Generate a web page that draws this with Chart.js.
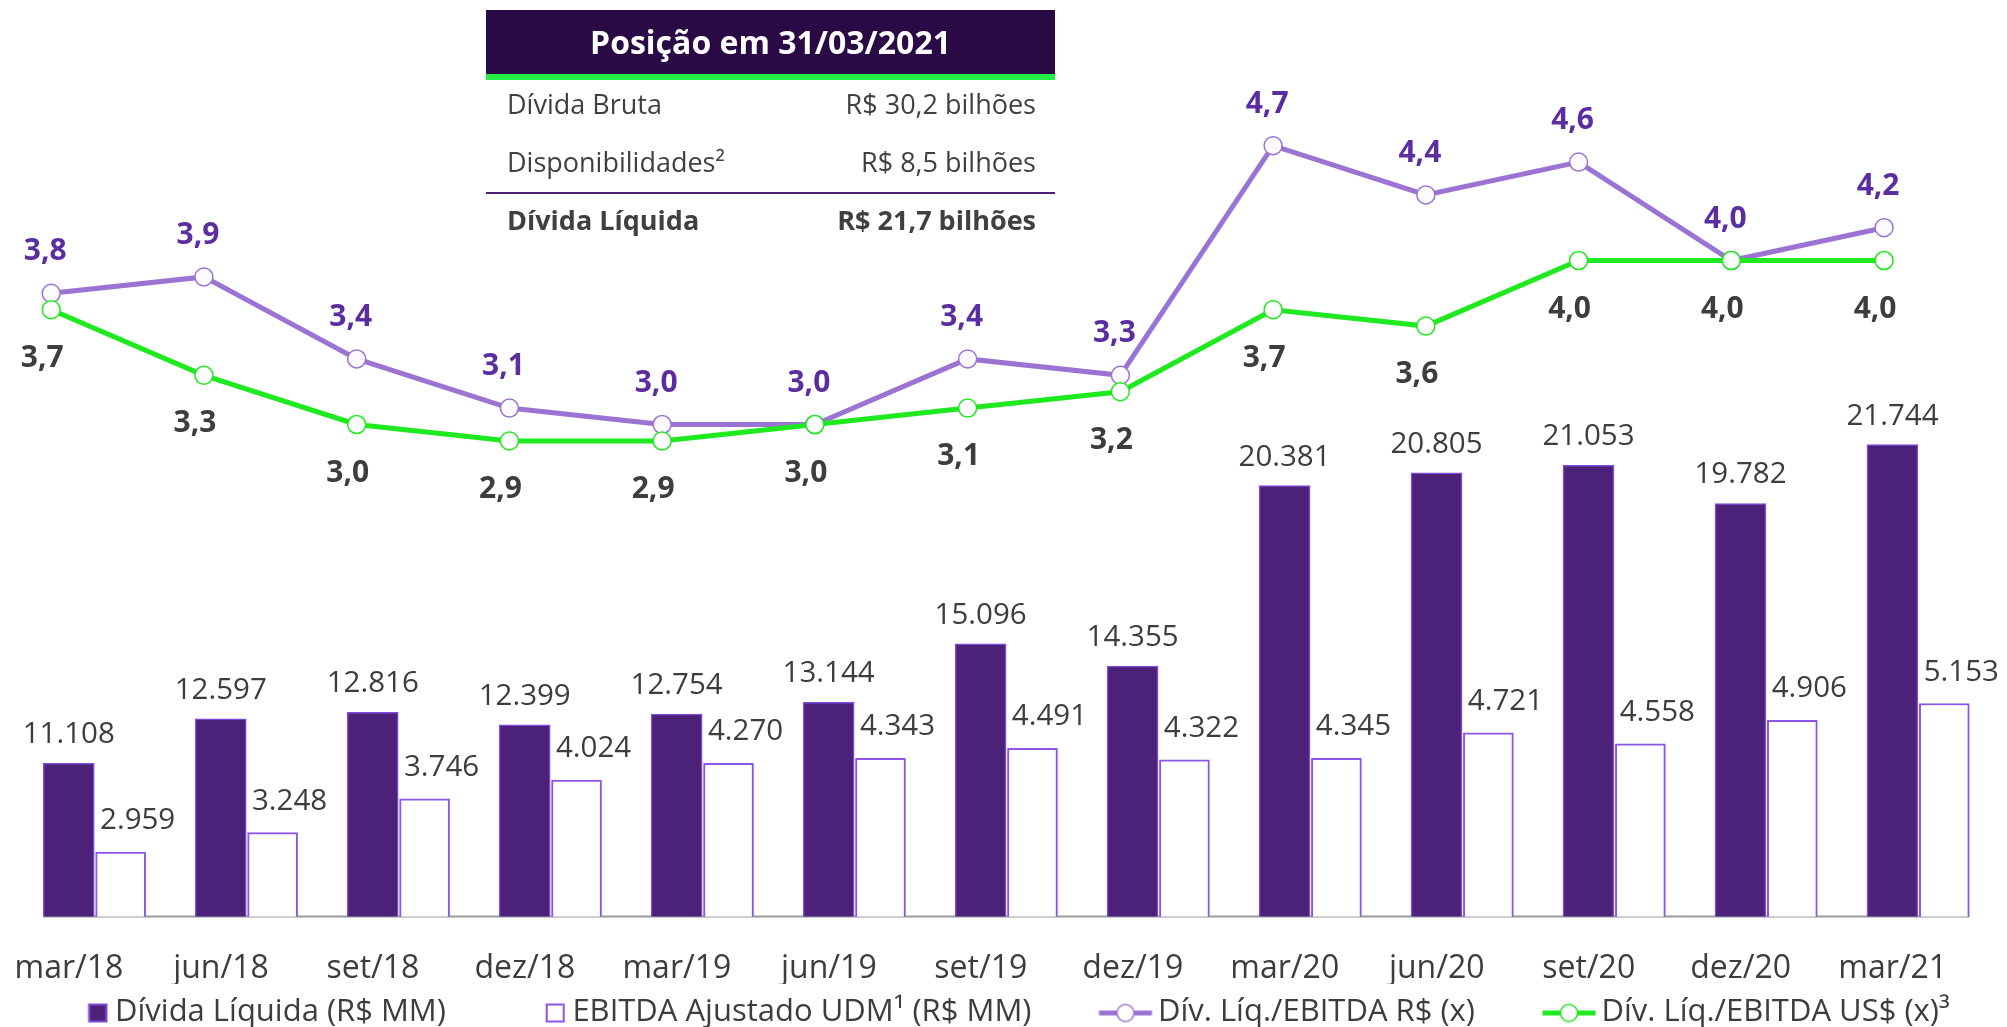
<!DOCTYPE html>
<html>
<head>
<meta charset="utf-8">
<script src="https://cdn.jsdelivr.net/npm/chart.js@4.4.1/dist/chart.umd.min.js"></script>
<style>
  html, body { margin: 0; padding: 0; background: #fff; }
  body { width: 2007px; height: 1027px; position: relative; overflow: hidden; font-family: "Open Sans", sans-serif; }
  #wrap { position: absolute; left: 0; top: 0; width: 2007px; height: 1027px; }
  .pos { position: absolute; left: 486px; top: 10px; width: 569px; height: 240px; color: #404040; }
  .pos .head { position: absolute; left: 0; top: 0; width: 569px; height: 64px; background: #2a0a45;
    color: #fff; font-weight: 700; font-size: 32px; line-height: 64px; text-align: center; }
  .pos .band { position: absolute; left: 0; top: 64px; width: 569px; height: 6px; background: #22ee44; }
  .pos .row { position: absolute; left: 0; width: 569px; height: 50px; line-height: 50px; font-size: 27px;
    display: flex; justify-content: space-between; box-sizing: border-box; padding: 0 19px 0 21px; }
  .pos .r1 { top: 69px; }
  .pos .r2 { top: 127px; }
  .pos .r3 { top: 185px; font-weight: 700; }
  .pos .line { position: absolute; left: 0; top: 182px; width: 569px; height: 2px; background: #4b2177; }
</style>
</head>
<body>
<div id="wrap"><canvas id="chart" width="2007" height="1027"></canvas></div>
<div class="pos">
  <div class="head">Posição em 31/03/2021</div>
  <div class="band"></div>
  <div class="row r1"><span>Dívida Bruta</span><span>R$ 30,2 bilhões</span></div>
  <div class="row r2"><span>Disponibilidades²</span><span>R$ 8,5 bilhões</span></div>
  <div class="line"></div>
  <div class="row r3"><span>Dívida Líquida</span><span>R$ 21,7 bilhões</span></div>
</div>
<script>
// dados
const categories = ['mar/18', 'jun/18', 'set/18', 'dez/18', 'mar/19', 'jun/19', 'set/19', 'dez/19', 'mar/20', 'jun/20', 'set/20', 'dez/20', 'mar/21'];
const dividaLiquida = [11108, 12597, 12816, 12399, 12754, 13144, 15096, 14355, 20381, 20805, 21053, 19782, 21744];
const ebitdaUdm = [2959, 3248, 3746, 4024, 4270, 4343, 4491, 4322, 4345, 4721, 4558, 4906, 5153];
const divEbitdaReal = [3.8, 3.9, 3.4, 3.1, 3.0, 3.0, 3.4, 3.3, 4.7, 4.4, 4.6, 4.0, 4.2];
const divEbitdaDolar = [3.7, 3.3, 3.0, 2.9, 2.9, 3.0, 3.1, 3.2, 3.7, 3.6, 4.0, 4.0, 4.0];
const legendLabels = ['Dívida Líquida (R$ MM)', 'EBITDA Ajustado UDM¹ (R$ MM)', 'Dív. Líq./EBITDA R$ (x)', 'Dív. Líq./EBITDA US$ (x)³'];

const DARK = '#4b2278';
const DARK_BORDER = '#7d4bdc';
const OPEN_BORDER = '#8c55e6';
const LAVENDER = '#9b73d2';
const GREEN = '#1fe91f';
const TEXT = '#3d3d3d';
const LABEL_PURPLE = '#5a2ea0';

Chart.defaults.font.family = '"Open Sans", sans-serif';
Chart.defaults.color = TEXT;

function fmtInt(v) {
  return String(v).replace(/\B(?=(\d{3})+(?!\d))/g, '.');
}
function fmtDec(v) {
  return v.toFixed(1).replace('.', ',');
}
// index -> {x, y} points, so every series sits on its own x scale
function points(arr) {
  return arr.map((v, i) => ({ x: i, y: v }));
}

// legend icons drawn on small canvases (icon sits at the right, next to the text)
function legendIcon(kind, color) {
  const c = document.createElement('canvas');
  c.width = 120;
  c.height = 30;
  const g = c.getContext('2d');
  if (kind === 'filled' || kind === 'open') {
    g.fillStyle = kind === 'filled' ? DARK : '#fff';
    g.fillRect(97.8, 6, 19, 19);
    g.strokeStyle = kind === 'filled' ? DARK_BORDER : OPEN_BORDER;
    g.lineWidth = 2;
    g.strokeRect(98.8, 7, 17, 17);
  } else {
    g.strokeStyle = color;
    g.lineWidth = 5;
    g.beginPath();
    g.moveTo(65.5, 15.5);
    g.lineTo(118.5, 15.5);
    g.stroke();
    g.beginPath();
    g.arc(92, 15.5, 8.5, 0, Math.PI * 2);
    g.fillStyle = '#fff';
    g.fill();
    g.lineWidth = 1.5;
    g.stroke();
  }
  return c;
}
const icons = [legendIcon('filled'), legendIcon('open'), legendIcon('line', LAVENDER), legendIcon('line', GREEN)];

// value labels + baseline
const valueLabels = {
  id: 'valueLabels',
  beforeDatasetsDraw(chart) {
    const ctx = chart.ctx;
    const dark = chart.getDatasetMeta(0).data;
    const open = chart.getDatasetMeta(1).data;
    const first = dark[0], last = open[open.length - 1];
    ctx.save();
    ctx.strokeStyle = '#9a9a9a';
    ctx.lineWidth = 2;
    ctx.beginPath();
    ctx.moveTo(first.x - first.width / 2, chart.chartArea.bottom);
    ctx.lineTo(last.x + last.width / 2, chart.chartArea.bottom);
    ctx.stroke();
    ctx.restore();
  },
  afterDatasetsDraw(chart) {
    const ctx = chart.ctx;
    ctx.save();
    ctx.textAlign = 'center';
    ctx.textBaseline = 'alphabetic';
    ctx.fillStyle = TEXT;
    ctx.font = '29.5px "Open Sans"';
    chart.getDatasetMeta(0).data.forEach((el, i) => {
      ctx.fillText(fmtInt(dividaLiquida[i]), el.x, el.y - 20);
    });
    chart.getDatasetMeta(1).data.forEach((el, i) => {
      ctx.fillText(fmtInt(ebitdaUdm[i]), el.x + 17, el.y - 23);
    });
    ctx.font = 'bold 30px "Open Sans"';
    ctx.fillStyle = LABEL_PURPLE;
    chart.getDatasetMeta(2).data.forEach((el, i) => {
      ctx.fillText(fmtDec(divEbitdaReal[i]), el.x - 6, el.y - 33);
    });
    ctx.fillStyle = TEXT;
    chart.getDatasetMeta(3).data.forEach((el, i) => {
      ctx.fillText(fmtDec(divEbitdaDolar[i]), el.x - 9, el.y + 57);
    });
    ctx.restore();
  }
};

const chart = new Chart(document.getElementById('chart'), {
  type: 'bar',
  data: {
    labels: categories,
    datasets: [
      {
        label: legendLabels[0],
        data: points(dividaLiquida),
        xAxisID: 'xDark',
        yAxisID: 'yDark',
        grouped: false,
        barThickness: 51,
        backgroundColor: DARK,
        borderColor: DARK_BORDER,
        borderWidth: 1.5,
        order: 3
      },
      {
        label: legendLabels[1],
        data: points(ebitdaUdm),
        xAxisID: 'xOpen',
        yAxisID: 'yOpen',
        grouped: false,
        barThickness: 50,
        backgroundColor: '#ffffff',
        borderColor: OPEN_BORDER,
        borderWidth: 2,
        order: 4
      },
      {
        type: 'line',
        label: legendLabels[2],
        data: points(divEbitdaReal),
        xAxisID: 'xl',
        yAxisID: 'yl',
        borderColor: LAVENDER,
        borderWidth: 5,
        pointRadius: 9,
        pointBackgroundColor: '#fbfaff',
        pointBorderColor: LAVENDER,
        pointBorderWidth: 1.5,
        tension: 0,
        clip: false,
        order: 2
      },
      {
        type: 'line',
        label: legendLabels[3],
        data: points(divEbitdaDolar),
        xAxisID: 'xl',
        yAxisID: 'yl',
        borderColor: GREEN,
        borderWidth: 5,
        pointRadius: 9,
        pointBackgroundColor: '#ffffff',
        pointBorderColor: GREEN,
        pointBorderWidth: 1.5,
        tension: 0,
        clip: false,
        order: 1
      }
    ]
  },
  options: {
    responsive: false,
    animation: false,
    layout: { padding: { top: 14.5, bottom: -11, left: -11.5, right: 0 } },
    plugins: {
      tooltip: { enabled: false },
      legend: {
        position: 'bottom',
        align: 'start',
        labels: {
          usePointStyle: true,
          pointStyleWidth: 98,
          padding: 13,
          color: TEXT,
          font: { size: 31 },
          generateLabels: () => legendLabels.map((t, i) => ({
            text: t,
            pointStyle: icons[i],
            fillStyle: 'transparent',
            strokeStyle: 'transparent',
            lineWidth: 0,
            hidden: false,
            datasetIndex: i,
            fontColor: TEXT
          }))
        }
      }
    },
    scales: {
      x: {
        type: 'category',
        grid: { display: false, drawTicks: false },
        border: { display: false },
        ticks: { font: { size: 32 }, color: TEXT, padding: 33.5, labelOffset: -26, maxRotation: 0, autoSkip: false },
        afterFit: (s) => { s.height = 67.5; }
      },
      xDark: { type: 'linear', display: false, offset: false, min: -0.3275, max: 12.6725 },
      xOpen: { type: 'linear', display: false, offset: false, min: -0.6687, max: 12.3313 },
      xl: { type: 'linear', display: false, offset: false, min: -0.2107, max: 12.724 },
      yDark: {
        position: 'left', min: 6000, max: 36100,
        grid: { display: false }, border: { display: false }, ticks: { display: false },
        afterFit: (s) => { s.width = 30.5; }
      },
      yOpen: {
        position: 'right', min: 2010, max: 15320,
        grid: { display: false }, border: { display: false }, ticks: { display: false },
        afterFit: (s) => { s.width = 11; }
      },
      yl: { display: false, min: 0, max: 5.5 }
    }
  },
  plugins: [valueLabels]
});
</script>
</body>
</html>
